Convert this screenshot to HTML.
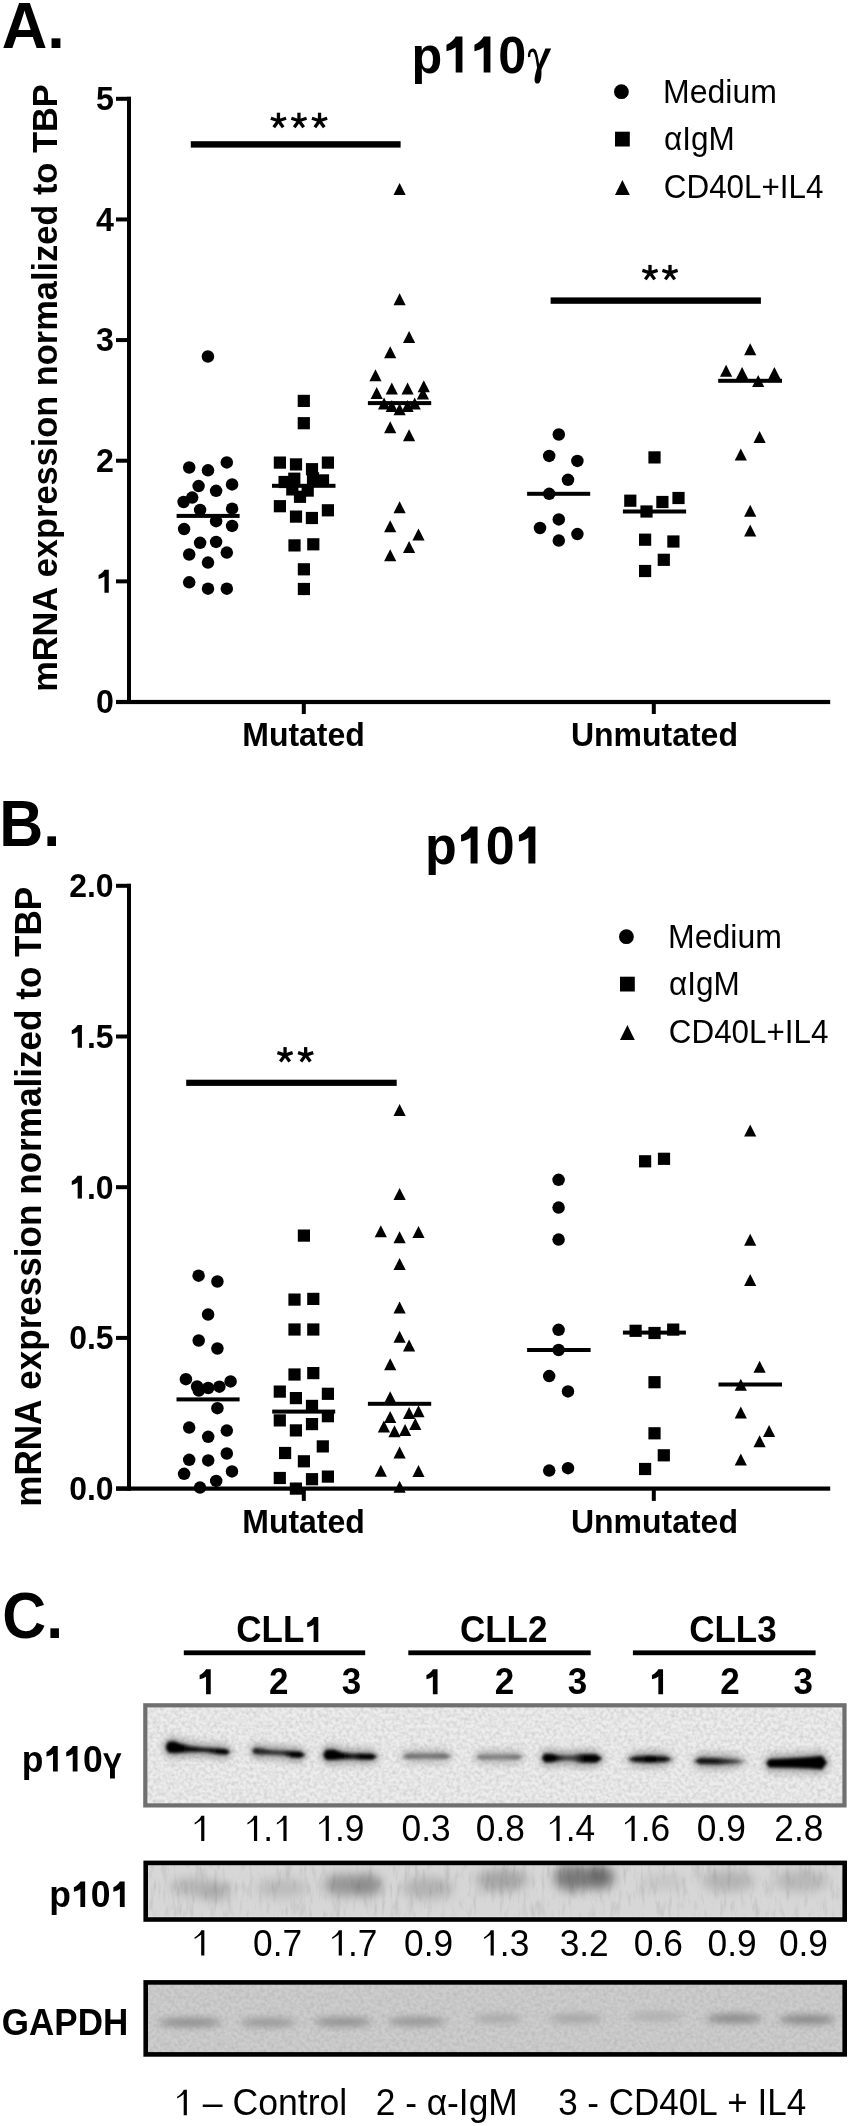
<!DOCTYPE html>
<html><head><meta charset="utf-8"><style>
html,body{margin:0;padding:0;background:#fff;}
body{width:850px;height:2126px;overflow:hidden;}
svg{display:block;font-family:"Liberation Sans",sans-serif;font-kerning:none;filter:grayscale(100%) blur(0.35px);}
</style></head><body>
<svg width="850" height="2126" viewBox="0 0 850 2126">
<rect width="850" height="2126" fill="#fff"/>
<defs>
<filter id="noise" x="0" y="0" width="100%" height="100%">
  <feTurbulence type="fractalNoise" baseFrequency="0.28" numOctaves="2" seed="7"/>
  <feColorMatrix type="matrix" values="0 0 0 0 0  0 0 0 0 0  0 0 0 0 0  1.6 0 0 0 -0.55" />
</filter>
<filter id="vnoise" x="0" y="0" width="100%" height="100%">
  <feTurbulence type="fractalNoise" baseFrequency="0.22 0.05" numOctaves="3" seed="11" result="t"/>
  <feColorMatrix type="matrix" values="0 0 0 0 0  0 0 0 0 0  0 0 0 0 0  0 0 0 -1.4 0.72" />
</filter>
<clipPath id="c1"><rect x="145.4" y="1705.4" width="699.1" height="100"/></clipPath>
<clipPath id="c2"><rect x="145.7" y="1862.9" width="699" height="56.6"/></clipPath>
<clipPath id="c3"><rect x="145.7" y="1982.4" width="699" height="72.0"/></clipPath>
<filter id="b1" x="-50%" y="-300%" width="200%" height="700%"><feGaussianBlur stdDeviation="1.7"/></filter>
<filter id="b4" x="-50%" y="-300%" width="200%" height="700%"><feGaussianBlur stdDeviation="3.8"/></filter>
<filter id="b6" x="-50%" y="-300%" width="200%" height="700%"><feGaussianBlur stdDeviation="5.5"/></filter>
<filter id="b3" x="-50%" y="-300%" width="200%" height="700%"><feGaussianBlur stdDeviation="2.8"/></filter>
</defs>
<g clip-path="url(#c1)">
<rect x="145.4" y="1705.4" width="699.1" height="100" fill="#ededed"/>
<rect x="145.4" y="1705.4" width="699.1" height="100" fill="#000" filter="url(#noise)" opacity="0.14"/>
<defs><linearGradient id="g1" gradientUnits="userSpaceOnUse" x1="165.5" y1="0" x2="230.5" y2="0"><stop offset="0" stop-color="#000"/><stop offset="0.35" stop-color="#080808"/><stop offset="0.6" stop-color="#1a1a1a"/><stop offset="0.85" stop-color="#000"/><stop offset="1" stop-color="#000"/></linearGradient></defs><polygon points="162.5,1747.0 168.0,1737.3 174.0,1736.8 180.0,1739.0 190.0,1741.8 205.0,1743.3 218.0,1744.1 226.0,1744.5 233.5,1752.0 226.0,1759.2 218.0,1758.4 205.0,1756.6 190.0,1756.4 180.0,1757.3 174.0,1757.7 168.0,1757.0" fill="#666" opacity="0.55" filter="url(#b4)"/><polygon points="165.5,1747.0 168.0,1741.8 174.0,1741.3 180.0,1743.5 190.0,1746.3 205.0,1747.8 218.0,1748.6 226.0,1749.0 230.5,1752.0 230.5,1752.0 226.0,1754.7 218.0,1753.9 205.0,1752.1 190.0,1751.9 180.0,1752.8 174.0,1753.2 168.0,1752.5 165.5,1747.0" fill="url(#g1)" filter="url(#b1)"/>
<defs><linearGradient id="g2" gradientUnits="userSpaceOnUse" x1="252" y1="0" x2="305.5" y2="0"><stop offset="0" stop-color="#222"/><stop offset="0.2" stop-color="#262626"/><stop offset="0.55" stop-color="#3a3a3a"/><stop offset="0.75" stop-color="#000"/><stop offset="1" stop-color="#000"/></linearGradient></defs><polygon points="249.0,1751.0 255.0,1743.3 261.0,1743.9 270.0,1745.5 285.0,1746.3 292.0,1746.8 300.0,1747.1 308.5,1755.0 300.0,1762.6 292.0,1762.1 285.0,1760.1 270.0,1759.1 261.0,1758.9 255.0,1758.7" fill="#666" opacity="0.55" filter="url(#b4)"/><polygon points="252.0,1751.0 255.0,1747.8 261.0,1748.4 270.0,1750.0 285.0,1750.8 292.0,1751.3 300.0,1751.6 305.5,1755.0 305.5,1755.0 300.0,1758.1 292.0,1757.6 285.0,1755.6 270.0,1754.6 261.0,1754.4 255.0,1754.2 252.0,1751.0" fill="url(#g2)" filter="url(#b1)"/>
<defs><linearGradient id="g3" gradientUnits="userSpaceOnUse" x1="323" y1="0" x2="377.5" y2="0"><stop offset="0" stop-color="#000"/><stop offset="0.35" stop-color="#000"/><stop offset="0.55" stop-color="#202020"/><stop offset="0.7" stop-color="#000"/><stop offset="1" stop-color="#000"/></linearGradient></defs><polygon points="320.0,1755.0 326.0,1745.3 334.0,1745.0 342.0,1747.9 352.0,1748.9 360.0,1748.9 372.0,1749.2 380.5,1756.6 372.0,1764.2 360.0,1764.1 352.0,1763.4 342.0,1763.7 334.0,1764.5 326.0,1764.5" fill="#666" opacity="0.55" filter="url(#b4)"/><polygon points="323.0,1755.0 326.0,1749.8 334.0,1749.5 342.0,1752.4 352.0,1753.4 360.0,1753.4 372.0,1753.7 377.5,1756.6 377.5,1756.6 372.0,1759.7 360.0,1759.6 352.0,1758.9 342.0,1759.2 334.0,1760.0 326.0,1760.0 323.0,1755.0" fill="url(#g3)" filter="url(#b1)"/>
<defs><linearGradient id="g4" gradientUnits="userSpaceOnUse" x1="402" y1="0" x2="451.3" y2="0"><stop offset="0" stop-color="#707070"/><stop offset="0.5" stop-color="#7a7a7a"/><stop offset="1" stop-color="#6a6a6a"/></linearGradient></defs><polygon points="399.0,1756.2 408.0,1749.1 445.0,1749.1 454.3,1756.2 445.0,1763.3 408.0,1763.3" fill="#666" opacity="0.35" filter="url(#b4)"/><polygon points="402.0,1756.2 408.0,1753.6 445.0,1753.6 451.3,1756.2 451.3,1756.2 445.0,1758.8 408.0,1758.8 402.0,1756.2" fill="url(#g4)" filter="url(#b1)"/>
<defs><linearGradient id="g5" gradientUnits="userSpaceOnUse" x1="475.3" y1="0" x2="523.3" y2="0"><stop offset="0" stop-color="#7e7e7e"/><stop offset="0.5" stop-color="#858585"/><stop offset="1" stop-color="#727272"/></linearGradient></defs><polygon points="472.3,1757.0 481.0,1750.0 517.0,1750.0 526.3,1757.0 517.0,1764.0 481.0,1764.0" fill="#666" opacity="0.35" filter="url(#b4)"/><polygon points="475.3,1757.0 481.0,1754.5 517.0,1754.5 523.3,1757.0 523.3,1757.0 517.0,1759.5 481.0,1759.5 475.3,1757.0" fill="url(#g5)" filter="url(#b1)"/>
<defs><linearGradient id="g6" gradientUnits="userSpaceOnUse" x1="541.7" y1="0" x2="602.4" y2="0"><stop offset="0" stop-color="#000"/><stop offset="0.2" stop-color="#000"/><stop offset="0.4" stop-color="#484848"/><stop offset="0.55" stop-color="#404040"/><stop offset="0.7" stop-color="#000"/><stop offset="1" stop-color="#000"/></linearGradient></defs><polygon points="538.7,1758.0 545.0,1749.0 552.0,1749.5 560.0,1751.1 572.0,1751.1 580.0,1749.7 596.0,1749.7 605.4,1758.6 596.0,1767.3 580.0,1767.1 572.0,1765.1 560.0,1765.1 552.0,1766.5 545.0,1767.0" fill="#666" opacity="0.55" filter="url(#b4)"/><polygon points="541.7,1758.0 545.0,1753.5 552.0,1754.0 560.0,1755.6 572.0,1755.6 580.0,1754.2 596.0,1754.2 602.4,1758.6 602.4,1758.6 596.0,1762.8 580.0,1762.6 572.0,1760.6 560.0,1760.6 552.0,1762.0 545.0,1762.5 541.7,1758.0" fill="url(#g6)" filter="url(#b1)"/>
<defs><linearGradient id="g7" gradientUnits="userSpaceOnUse" x1="628" y1="0" x2="672.2" y2="0"><stop offset="0" stop-color="#1a1a1a"/><stop offset="0.5" stop-color="#000"/><stop offset="1" stop-color="#1a1a1a"/></linearGradient></defs><polygon points="625.0,1759.3 634.0,1752.1 650.0,1751.1 666.0,1752.1 675.2,1759.3 666.0,1766.3 650.0,1767.3 634.0,1766.3" fill="#666" opacity="0.55" filter="url(#b4)"/><polygon points="628.0,1759.3 634.0,1756.6 650.0,1755.6 666.0,1756.6 672.2,1759.3 672.2,1759.3 666.0,1761.8 650.0,1762.8 634.0,1761.8 628.0,1759.3" fill="url(#g7)" filter="url(#b1)"/>
<defs><linearGradient id="g8" gradientUnits="userSpaceOnUse" x1="694.3" y1="0" x2="745.5" y2="0"><stop offset="0" stop-color="#111"/><stop offset="0.45" stop-color="#1a1a1a"/><stop offset="0.75" stop-color="#444"/><stop offset="1" stop-color="#666"/></linearGradient></defs><polygon points="691.3,1761.0 700.0,1753.3 718.0,1753.7 735.0,1755.0 748.5,1761.6 735.0,1768.0 718.0,1768.9 700.0,1768.7" fill="#666" opacity="0.55" filter="url(#b4)"/><polygon points="694.3,1761.0 700.0,1757.8 718.0,1758.2 735.0,1759.5 745.5,1761.6 745.5,1761.6 735.0,1763.5 718.0,1764.4 700.0,1764.2 694.3,1761.0" fill="url(#g8)" filter="url(#b1)"/>
<defs><linearGradient id="g9" gradientUnits="userSpaceOnUse" x1="766.2" y1="0" x2="827" y2="0"><stop offset="0" stop-color="#000"/><stop offset="1" stop-color="#000"/></linearGradient></defs><polygon points="763.2,1763.2 769.0,1754.7 790.0,1753.7 810.0,1752.5 822.0,1751.3 830.0,1762.6 822.0,1774.0 810.0,1773.1 790.0,1772.3 769.0,1772.1" fill="#666" opacity="0.55" filter="url(#b4)"/><polygon points="766.2,1763.2 769.0,1759.2 790.0,1758.2 810.0,1757.0 822.0,1755.8 827.0,1762.6 827.0,1762.6 822.0,1769.5 810.0,1768.6 790.0,1767.8 769.0,1767.6 766.2,1763.2" fill="url(#g9)" filter="url(#b1)"/>
</g>
<rect x="145.3" y="1705.3" width="699.2" height="100.1" fill="none" stroke="#6f6f6f" stroke-width="4.2"/>
<g clip-path="url(#c2)">
<rect x="145.7" y="1862.9" width="699" height="56.6" fill="#d7d7d7"/>
<ellipse cx="190.0" cy="1887.0" rx="20" ry="9" fill="#b6b6b6" opacity="1.0" filter="url(#b6)"/>
<ellipse cx="214.0" cy="1891.0" rx="16" ry="9" fill="#a8a8a8" opacity="1.0" filter="url(#b6)"/>
<ellipse cx="282.0" cy="1888.0" rx="26" ry="10" fill="#bcbcbc" opacity="1.0" filter="url(#b6)"/>
<ellipse cx="342.0" cy="1885.0" rx="18" ry="11" fill="#979797" opacity="1.0" filter="url(#b6)"/>
<ellipse cx="366.0" cy="1885.0" rx="16" ry="11" fill="#8c8c8c" opacity="1.0" filter="url(#b6)"/>
<ellipse cx="428.0" cy="1888.0" rx="26" ry="11" fill="#b2b2b2" opacity="1.0" filter="url(#b6)"/>
<ellipse cx="502.0" cy="1880.0" rx="26" ry="11" fill="#a6a6a6" opacity="1.0" filter="url(#b6)"/>
<ellipse cx="572.0" cy="1878.0" rx="18" ry="13" fill="#7a7a7a" opacity="1.0" filter="url(#b6)"/>
<ellipse cx="598.0" cy="1877.0" rx="16" ry="12" fill="#6c6c6c" opacity="1.0" filter="url(#b6)"/>
<ellipse cx="663.0" cy="1882.0" rx="22" ry="8" fill="#c6c6c6" opacity="1.0" filter="url(#b6)"/>
<ellipse cx="728.0" cy="1881.0" rx="27" ry="11" fill="#b4b4b4" opacity="1.0" filter="url(#b6)"/>
<ellipse cx="801.0" cy="1881.0" rx="28" ry="11" fill="#b8b8b8" opacity="1.0" filter="url(#b6)"/>
<rect x="145.7" y="1862.9" width="699" height="56.6" fill="#000" filter="url(#vnoise)" opacity="0.16"/>
<rect x="148" y="1916.6" width="694.4" height="1.2" fill="#f2f2f2" opacity="0.8"/>
</g>
<rect x="145.7" y="1862.9" width="699" height="56.6" fill="none" stroke="#000" stroke-width="4.6"/>
<g clip-path="url(#c3)">
<rect x="145.7" y="1982.4" width="699" height="72.0" fill="#cdcdcd"/>
<rect x="145.7" y="1982.4" width="699" height="72.0" fill="#000" filter="url(#noise)" opacity="0.10"/>
<ellipse cx="190.0" cy="2022.5" rx="32" ry="4.6" fill="#8e8e8e" opacity="1.0" filter="url(#b4)"/>
<ellipse cx="268.0" cy="2022.5" rx="28" ry="4.6" fill="#989898" opacity="1.0" filter="url(#b4)"/>
<ellipse cx="343.0" cy="2022.0" rx="29" ry="4.6" fill="#909090" opacity="1.0" filter="url(#b4)"/>
<ellipse cx="417.0" cy="2021.5" rx="29" ry="4.6" fill="#959595" opacity="1.0" filter="url(#b4)"/>
<ellipse cx="498.0" cy="2018.5" rx="24" ry="4.6" fill="#a9a9a9" opacity="1.0" filter="url(#b4)"/>
<ellipse cx="576.0" cy="2018.5" rx="27" ry="4.6" fill="#a5a5a5" opacity="1.0" filter="url(#b4)"/>
<ellipse cx="656.0" cy="2016.5" rx="27" ry="4.6" fill="#afafaf" opacity="1.0" filter="url(#b4)"/>
<ellipse cx="734.0" cy="2018.4" rx="28" ry="4.6" fill="#888888" opacity="1.0" filter="url(#b4)"/>
<ellipse cx="807.0" cy="2019.5" rx="28" ry="4.6" fill="#868686" opacity="1.0" filter="url(#b4)"/>
</g>
<rect x="145.7" y="1982.4" width="699" height="72.0" fill="none" stroke="#000" stroke-width="4.6"/>
<g fill="#000">
<g transform="translate(1.73 47.60) scale(1 1.03)"><text x="0" y="0" font-size="63.0" font-weight="bold">A.</text></g>
<g transform="translate(411.58 72.60) scale(1 1.04)"><text x="0" y="0" font-size="50.3" font-weight="bold">p  0</text><path transform="translate(30.73 0) scale(0.02456 -0.02456)" d="M820 0L545 0L545 990C450 913 300 865 170 836L170 1086C330 1153 470 1278 545 1409L820 1409Z"/><path transform="translate(58.70 0) scale(0.02456 -0.02456)" d="M820 0L545 0L545 990C450 913 300 865 170 836L170 1086C330 1153 470 1278 545 1409L820 1409Z"/></g>
<path d="M528.0 57.2 C527.6 52.5 529.5 48.6 532.8 48.6 C536.4 48.6 537.8 54 539.4 66.5 L537.0 67.2 C535.6 57 534.6 51.8 532.3 51.8 C530.6 51.8 530.2 54 530.3 56.8 Z"/>
<path d="M545.4 48.6 L551.2 48.6 L541.4 69.5 L537.6 68.0 Z"/>
<path d="M537.4 66.5 L541.3 68.2 C541.8 74 541.6 83.6 537.6 83.6 C534.4 83.6 534.2 80.5 534.9 76.5 C535.5 73 536.6 70 537.4 66.5 Z"/>
<rect x="127.00" y="96.80" width="4" height="607.20"/>
<rect x="116.00" y="700.00" width="15.00" height="4"/>
<g transform="translate(95.89 713.40) scale(1 1.04)"><text x="0" y="0" font-size="32.2" font-weight="bold">0</text></g>
<rect x="116.00" y="579.36" width="15.00" height="4"/>
<g transform="translate(95.89 592.76) scale(1 1.04)"><text x="0" y="0" font-size="32.2" font-weight="bold"> </text><path transform="translate(0.00 0) scale(0.01572 -0.01572)" d="M820 0L545 0L545 990C450 913 300 865 170 836L170 1086C330 1153 470 1278 545 1409L820 1409Z"/></g>
<rect x="116.00" y="458.72" width="15.00" height="4"/>
<g transform="translate(95.89 472.12) scale(1 1.04)"><text x="0" y="0" font-size="32.2" font-weight="bold">2</text></g>
<rect x="116.00" y="338.08" width="15.00" height="4"/>
<g transform="translate(95.89 351.48) scale(1 1.04)"><text x="0" y="0" font-size="32.2" font-weight="bold">3</text></g>
<rect x="116.00" y="217.44" width="15.00" height="4"/>
<g transform="translate(95.89 230.84) scale(1 1.04)"><text x="0" y="0" font-size="32.2" font-weight="bold">4</text></g>
<rect x="116.00" y="96.80" width="15.00" height="4"/>
<g transform="translate(95.89 110.20) scale(1 1.04)"><text x="0" y="0" font-size="32.2" font-weight="bold">5</text></g>
<rect x="116.00" y="699.90" width="714.20" height="4.2"/>
<rect x="301.80" y="702.00" width="4" height="12.00"/>
<rect x="651.80" y="702.00" width="4" height="12.00"/>
<g transform="translate(242.26 745.60) scale(1 1.04)"><text x="0" y="0" font-size="32" font-weight="bold">Mutated</text></g>
<g transform="translate(570.94 745.60) scale(1 1.04)"><text x="0" y="0" font-size="32" font-weight="bold">Unmutated</text></g>
<g transform="translate(56.8 387.4) rotate(-90) translate(-304.47 0) scale(1 1.04)"><text x="0" y="0" font-size="34.4" font-weight="bold">mRNA expression normalized to TBP</text></g>
<circle cx="621.4" cy="91.7" r="7.4"/>
<g transform="translate(663.08 102.50) scale(1 1.04)"><text x="0" y="0" font-size="32" font-weight="normal">Medium</text></g>
<rect x="615.00" y="131.70" width="14.8" height="14.8"/>
<g transform="translate(664.08 150.10) scale(1 1.04)"><text x="0" y="0" font-size="31.5" font-weight="normal">αIgM</text></g>
<path d="M622.40 179.90L629.80 194.90L615.00 194.90Z"/>
<g transform="translate(663.81 197.90) scale(1 1.04)"><text x="0" y="0" font-size="31.4" font-weight="normal">CD40L+IL4</text></g>
<rect x="190.80" y="141.20" width="209.80" height="6.4"/>
<g transform="translate(278.45 120.70)"><rect x="-1.65" y="-8.0" width="3.3" height="8.0" transform="rotate(0)"/><rect x="-1.65" y="-8.0" width="3.3" height="8.0" transform="rotate(72)"/><rect x="-1.65" y="-8.0" width="3.3" height="8.0" transform="rotate(144)"/><rect x="-1.65" y="-8.0" width="3.3" height="8.0" transform="rotate(216)"/><rect x="-1.65" y="-8.0" width="3.3" height="8.0" transform="rotate(288)"/></g>
<g transform="translate(298.95 120.70)"><rect x="-1.65" y="-8.0" width="3.3" height="8.0" transform="rotate(0)"/><rect x="-1.65" y="-8.0" width="3.3" height="8.0" transform="rotate(72)"/><rect x="-1.65" y="-8.0" width="3.3" height="8.0" transform="rotate(144)"/><rect x="-1.65" y="-8.0" width="3.3" height="8.0" transform="rotate(216)"/><rect x="-1.65" y="-8.0" width="3.3" height="8.0" transform="rotate(288)"/></g>
<g transform="translate(319.55 120.70)"><rect x="-1.65" y="-8.0" width="3.3" height="8.0" transform="rotate(0)"/><rect x="-1.65" y="-8.0" width="3.3" height="8.0" transform="rotate(72)"/><rect x="-1.65" y="-8.0" width="3.3" height="8.0" transform="rotate(144)"/><rect x="-1.65" y="-8.0" width="3.3" height="8.0" transform="rotate(216)"/><rect x="-1.65" y="-8.0" width="3.3" height="8.0" transform="rotate(288)"/></g>
<rect x="550.60" y="297.40" width="210.30" height="6.4"/>
<g transform="translate(650.00 272.90)"><rect x="-1.65" y="-8.0" width="3.3" height="8.0" transform="rotate(0)"/><rect x="-1.65" y="-8.0" width="3.3" height="8.0" transform="rotate(72)"/><rect x="-1.65" y="-8.0" width="3.3" height="8.0" transform="rotate(144)"/><rect x="-1.65" y="-8.0" width="3.3" height="8.0" transform="rotate(216)"/><rect x="-1.65" y="-8.0" width="3.3" height="8.0" transform="rotate(288)"/></g>
<g transform="translate(670.00 272.90)"><rect x="-1.65" y="-8.0" width="3.3" height="8.0" transform="rotate(0)"/><rect x="-1.65" y="-8.0" width="3.3" height="8.0" transform="rotate(72)"/><rect x="-1.65" y="-8.0" width="3.3" height="8.0" transform="rotate(144)"/><rect x="-1.65" y="-8.0" width="3.3" height="8.0" transform="rotate(216)"/><rect x="-1.65" y="-8.0" width="3.3" height="8.0" transform="rotate(288)"/></g>
<circle cx="207.9" cy="356.5" r="6.25"/>
<circle cx="189.2" cy="467.5" r="6.25"/>
<circle cx="208.0" cy="470.3" r="6.25"/>
<circle cx="226.8" cy="462.4" r="6.25"/>
<circle cx="198.6" cy="486.1" r="6.25"/>
<circle cx="216.1" cy="490.8" r="6.25"/>
<circle cx="232.1" cy="484.4" r="6.25"/>
<circle cx="192.2" cy="497.6" r="6.25"/>
<circle cx="183.6" cy="502.0" r="6.25"/>
<circle cx="200.1" cy="509.9" r="6.25"/>
<circle cx="232.1" cy="508.7" r="6.25"/>
<circle cx="216.1" cy="521.2" r="6.25"/>
<circle cx="184.1" cy="529.1" r="6.25"/>
<circle cx="232.1" cy="525.9" r="6.25"/>
<circle cx="200.1" cy="542.8" r="6.25"/>
<circle cx="216.1" cy="541.9" r="6.25"/>
<circle cx="189.2" cy="554.5" r="6.25"/>
<circle cx="226.8" cy="552.6" r="6.25"/>
<circle cx="208.0" cy="562.6" r="6.25"/>
<circle cx="189.2" cy="582.3" r="6.25"/>
<circle cx="208.0" cy="588.7" r="6.25"/>
<circle cx="226.8" cy="588.7" r="6.25"/>
<circle cx="558.8" cy="434.5" r="6.25"/>
<circle cx="549.2" cy="455.9" r="6.25"/>
<circle cx="577.4" cy="460.9" r="6.25"/>
<circle cx="568.0" cy="479.8" r="6.25"/>
<circle cx="549.2" cy="493.8" r="6.25"/>
<circle cx="558.8" cy="519.4" r="6.25"/>
<circle cx="540.0" cy="528.0" r="6.25"/>
<circle cx="577.4" cy="534.1" r="6.25"/>
<circle cx="558.8" cy="540.6" r="6.25"/>
<rect x="297.70" y="394.80" width="12.2" height="12.2"/>
<rect x="297.70" y="417.10" width="12.2" height="12.2"/>
<rect x="273.80" y="456.50" width="12.2" height="12.2"/>
<rect x="289.90" y="458.30" width="12.2" height="12.2"/>
<rect x="305.90" y="463.10" width="12.2" height="12.2"/>
<rect x="321.80" y="456.50" width="12.2" height="12.2"/>
<rect x="278.50" y="475.90" width="12.2" height="12.2"/>
<rect x="288.20" y="472.60" width="12.2" height="12.2"/>
<rect x="306.90" y="472.20" width="12.2" height="12.2"/>
<rect x="316.90" y="474.30" width="12.2" height="12.2"/>
<rect x="286.20" y="483.30" width="12.2" height="12.2"/>
<rect x="301.60" y="484.50" width="12.2" height="12.2"/>
<rect x="293.90" y="490.70" width="12.2" height="12.2"/>
<rect x="273.80" y="500.10" width="12.2" height="12.2"/>
<rect x="289.90" y="510.50" width="12.2" height="12.2"/>
<rect x="305.80" y="511.90" width="12.2" height="12.2"/>
<rect x="321.80" y="504.20" width="12.2" height="12.2"/>
<rect x="288.40" y="539.30" width="12.2" height="12.2"/>
<rect x="307.20" y="538.20" width="12.2" height="12.2"/>
<rect x="297.80" y="563.20" width="12.2" height="12.2"/>
<rect x="297.80" y="582.90" width="12.2" height="12.2"/>
<rect x="648.40" y="451.30" width="12.2" height="12.2"/>
<rect x="624.20" y="494.60" width="12.2" height="12.2"/>
<rect x="656.30" y="495.90" width="12.2" height="12.2"/>
<rect x="672.40" y="491.90" width="12.2" height="12.2"/>
<rect x="640.40" y="505.40" width="12.2" height="12.2"/>
<rect x="639.00" y="533.60" width="12.2" height="12.2"/>
<rect x="667.30" y="535.40" width="12.2" height="12.2"/>
<rect x="657.70" y="553.70" width="12.2" height="12.2"/>
<rect x="639.00" y="564.90" width="12.2" height="12.2"/>
<path d="M399.60 182.90L405.70 194.90L393.50 194.90Z"/>
<path d="M399.60 293.30L405.70 305.30L393.50 305.30Z"/>
<path d="M409.10 330.90L415.20 342.90L403.00 342.90Z"/>
<path d="M390.20 346.20L396.30 358.20L384.10 358.20Z"/>
<path d="M375.50 369.20L381.60 381.20L369.40 381.20Z"/>
<path d="M376.70 387.10L382.80 399.10L370.60 399.10Z"/>
<path d="M391.80 382.40L397.90 394.40L385.70 394.40Z"/>
<path d="M407.60 382.40L413.70 394.40L401.50 394.40Z"/>
<path d="M423.80 380.20L429.90 392.20L417.70 392.20Z"/>
<path d="M422.90 387.60L429.00 399.60L416.80 399.60Z"/>
<path d="M384.10 397.60L390.20 409.60L378.00 409.60Z"/>
<path d="M391.80 400.00L397.90 412.00L385.70 412.00Z"/>
<path d="M407.60 400.00L413.70 412.00L401.50 412.00Z"/>
<path d="M414.70 397.60L420.80 409.60L408.60 409.60Z"/>
<path d="M399.60 403.30L405.70 415.30L393.50 415.30Z"/>
<path d="M390.20 421.20L396.30 433.20L384.10 433.20Z"/>
<path d="M409.10 429.20L415.20 441.20L403.00 441.20Z"/>
<path d="M399.60 501.20L405.70 513.20L393.50 513.20Z"/>
<path d="M390.20 520.20L396.30 532.20L384.10 532.20Z"/>
<path d="M418.50 528.50L424.60 540.50L412.40 540.50Z"/>
<path d="M409.10 540.90L415.20 552.90L403.00 552.90Z"/>
<path d="M390.20 549.20L396.30 561.20L384.10 561.20Z"/>
<path d="M750.20 343.20L756.30 355.20L744.10 355.20Z"/>
<path d="M726.10 364.70L732.20 376.70L720.00 376.70Z"/>
<path d="M742.10 367.10L748.20 379.10L736.00 379.10Z"/>
<path d="M774.40 367.10L780.50 379.10L768.30 379.10Z"/>
<path d="M758.20 375.10L764.30 387.10L752.10 387.10Z"/>
<path d="M759.60 430.90L765.70 442.90L753.50 442.90Z"/>
<path d="M740.80 448.60L746.90 460.60L734.70 460.60Z"/>
<path d="M750.20 504.70L756.30 516.70L744.10 516.70Z"/>
<path d="M750.20 524.50L756.30 536.50L744.10 536.50Z"/>
<rect x="176.60" y="513.90" width="63.00" height="4"/>
<rect x="272.00" y="483.80" width="63.50" height="4"/>
<rect x="367.90" y="401.10" width="63.30" height="4"/>
<rect x="527.10" y="491.80" width="63.10" height="4"/>
<rect x="622.90" y="509.50" width="63.20" height="4"/>
<rect x="718.20" y="378.80" width="63.80" height="4"/>
<g transform="translate(-0.78 846.20) scale(1 1.075)"><text x="0" y="0" font-size="61.0" font-weight="bold">B.</text></g>
<g transform="translate(424.97 863.60) scale(1 1.04)"><text x="0" y="0" font-size="52.0" font-weight="bold">p 0 </text><path transform="translate(31.76 0) scale(0.02539 -0.02539)" d="M820 0L545 0L545 990C450 913 300 865 170 836L170 1086C330 1153 470 1278 545 1409L820 1409Z"/><path transform="translate(89.60 0) scale(0.02539 -0.02539)" d="M820 0L545 0L545 990C450 913 300 865 170 836L170 1086C330 1153 470 1278 545 1409L820 1409Z"/></g>
<rect x="127.00" y="883.80" width="4" height="606.80"/>
<rect x="116.00" y="1486.60" width="15.00" height="4"/>
<g transform="translate(69.15 1499.90) scale(1 1.04)"><text x="0" y="0" font-size="31.9" font-weight="bold">0.0</text></g>
<rect x="116.00" y="1335.90" width="15.00" height="4"/>
<g transform="translate(69.15 1349.20) scale(1 1.04)"><text x="0" y="0" font-size="31.9" font-weight="bold">0.5</text></g>
<rect x="116.00" y="1185.20" width="15.00" height="4"/>
<g transform="translate(69.15 1198.50) scale(1 1.04)"><text x="0" y="0" font-size="31.9" font-weight="bold"> .0</text><path transform="translate(0.00 0) scale(0.01558 -0.01558)" d="M820 0L545 0L545 990C450 913 300 865 170 836L170 1086C330 1153 470 1278 545 1409L820 1409Z"/></g>
<rect x="116.00" y="1034.50" width="15.00" height="4"/>
<g transform="translate(69.15 1047.80) scale(1 1.04)"><text x="0" y="0" font-size="31.9" font-weight="bold"> .5</text><path transform="translate(0.00 0) scale(0.01558 -0.01558)" d="M820 0L545 0L545 990C450 913 300 865 170 836L170 1086C330 1153 470 1278 545 1409L820 1409Z"/></g>
<rect x="116.00" y="883.80" width="15.00" height="4"/>
<g transform="translate(69.15 897.10) scale(1 1.04)"><text x="0" y="0" font-size="31.9" font-weight="bold">2.0</text></g>
<rect x="116.00" y="1486.50" width="714.20" height="4.2"/>
<rect x="301.80" y="1488.60" width="4" height="12.30"/>
<rect x="651.80" y="1488.60" width="4" height="12.30"/>
<g transform="translate(242.26 1532.60) scale(1 1.04)"><text x="0" y="0" font-size="32" font-weight="bold">Mutated</text></g>
<g transform="translate(570.94 1532.60) scale(1 1.04)"><text x="0" y="0" font-size="32" font-weight="bold">Unmutated</text></g>
<g transform="translate(41.1 1196.1) rotate(-90) translate(-310.66 0) scale(1 1.04)"><text x="0" y="0" font-size="35.1" font-weight="bold">mRNA expression normalized to TBP</text></g>
<circle cx="626.4" cy="936.7" r="7.4"/>
<g transform="translate(668.08 947.50) scale(1 1.04)"><text x="0" y="0" font-size="32" font-weight="normal">Medium</text></g>
<rect x="620.00" y="976.70" width="14.8" height="14.8"/>
<g transform="translate(669.08 995.10) scale(1 1.04)"><text x="0" y="0" font-size="31.5" font-weight="normal">αIgM</text></g>
<path d="M627.40 1024.90L634.80 1039.90L620.00 1039.90Z"/>
<g transform="translate(668.81 1042.90) scale(1 1.04)"><text x="0" y="0" font-size="31.4" font-weight="normal">CD40L+IL4</text></g>
<rect x="186.20" y="1079.70" width="210.50" height="6.2"/>
<g transform="translate(285.05 1055.10)"><rect x="-1.65" y="-8.0" width="3.3" height="8.0" transform="rotate(0)"/><rect x="-1.65" y="-8.0" width="3.3" height="8.0" transform="rotate(72)"/><rect x="-1.65" y="-8.0" width="3.3" height="8.0" transform="rotate(144)"/><rect x="-1.65" y="-8.0" width="3.3" height="8.0" transform="rotate(216)"/><rect x="-1.65" y="-8.0" width="3.3" height="8.0" transform="rotate(288)"/></g>
<g transform="translate(305.65 1055.10)"><rect x="-1.65" y="-8.0" width="3.3" height="8.0" transform="rotate(0)"/><rect x="-1.65" y="-8.0" width="3.3" height="8.0" transform="rotate(72)"/><rect x="-1.65" y="-8.0" width="3.3" height="8.0" transform="rotate(144)"/><rect x="-1.65" y="-8.0" width="3.3" height="8.0" transform="rotate(216)"/><rect x="-1.65" y="-8.0" width="3.3" height="8.0" transform="rotate(288)"/></g>
<circle cx="198.6" cy="1275.7" r="6.25"/>
<circle cx="217.4" cy="1281.5" r="6.25"/>
<circle cx="208.1" cy="1314.5" r="6.25"/>
<circle cx="198.7" cy="1340.5" r="6.25"/>
<circle cx="217.4" cy="1348.5" r="6.25"/>
<circle cx="185.9" cy="1379.2" r="6.25"/>
<circle cx="197.1" cy="1386.5" r="6.25"/>
<circle cx="198.8" cy="1390.6" r="6.25"/>
<circle cx="208.2" cy="1388.0" r="6.25"/>
<circle cx="219.4" cy="1386.7" r="6.25"/>
<circle cx="230.6" cy="1381.4" r="6.25"/>
<circle cx="217.4" cy="1408.2" r="6.25"/>
<circle cx="189.2" cy="1427.6" r="6.25"/>
<circle cx="208.2" cy="1436.8" r="6.25"/>
<circle cx="226.8" cy="1430.6" r="6.25"/>
<circle cx="226.8" cy="1453.5" r="6.25"/>
<circle cx="189.2" cy="1459.8" r="6.25"/>
<circle cx="208.2" cy="1460.4" r="6.25"/>
<circle cx="232.0" cy="1471.4" r="6.25"/>
<circle cx="184.1" cy="1473.8" r="6.25"/>
<circle cx="216.2" cy="1480.9" r="6.25"/>
<circle cx="200.0" cy="1487.6" r="6.25"/>
<circle cx="558.6" cy="1179.8" r="6.25"/>
<circle cx="558.6" cy="1207.6" r="6.25"/>
<circle cx="558.6" cy="1239.6" r="6.25"/>
<circle cx="558.6" cy="1329.8" r="6.25"/>
<circle cx="558.6" cy="1350.0" r="6.25"/>
<circle cx="549.2" cy="1376.1" r="6.25"/>
<circle cx="568.0" cy="1391.4" r="6.25"/>
<circle cx="549.2" cy="1470.6" r="6.25"/>
<circle cx="568.0" cy="1468.2" r="6.25"/>
<rect x="297.80" y="1229.50" width="12.2" height="12.2"/>
<rect x="288.40" y="1293.50" width="12.2" height="12.2"/>
<rect x="307.20" y="1292.80" width="12.2" height="12.2"/>
<rect x="288.40" y="1323.40" width="12.2" height="12.2"/>
<rect x="307.20" y="1323.40" width="12.2" height="12.2"/>
<rect x="288.40" y="1368.40" width="12.2" height="12.2"/>
<rect x="307.20" y="1367.00" width="12.2" height="12.2"/>
<rect x="273.70" y="1385.50" width="12.2" height="12.2"/>
<rect x="289.80" y="1392.00" width="12.2" height="12.2"/>
<rect x="321.80" y="1387.70" width="12.2" height="12.2"/>
<rect x="305.90" y="1399.80" width="12.2" height="12.2"/>
<rect x="273.70" y="1414.30" width="12.2" height="12.2"/>
<rect x="321.80" y="1410.10" width="12.2" height="12.2"/>
<rect x="305.90" y="1418.00" width="12.2" height="12.2"/>
<rect x="289.80" y="1424.30" width="12.2" height="12.2"/>
<rect x="316.70" y="1440.30" width="12.2" height="12.2"/>
<rect x="279.00" y="1446.90" width="12.2" height="12.2"/>
<rect x="297.80" y="1455.20" width="12.2" height="12.2"/>
<rect x="273.70" y="1471.90" width="12.2" height="12.2"/>
<rect x="305.90" y="1473.10" width="12.2" height="12.2"/>
<rect x="321.80" y="1470.50" width="12.2" height="12.2"/>
<rect x="289.80" y="1482.50" width="12.2" height="12.2"/>
<rect x="639.00" y="1155.20" width="12.2" height="12.2"/>
<rect x="657.90" y="1152.70" width="12.2" height="12.2"/>
<rect x="629.50" y="1324.70" width="12.2" height="12.2"/>
<rect x="648.40" y="1326.90" width="12.2" height="12.2"/>
<rect x="667.10" y="1323.50" width="12.2" height="12.2"/>
<rect x="648.40" y="1376.10" width="12.2" height="12.2"/>
<rect x="648.40" y="1427.20" width="12.2" height="12.2"/>
<rect x="657.70" y="1449.20" width="12.2" height="12.2"/>
<rect x="639.00" y="1462.90" width="12.2" height="12.2"/>
<path d="M399.60 1104.10L405.70 1116.10L393.50 1116.10Z"/>
<path d="M399.60 1187.90L405.70 1199.90L393.50 1199.90Z"/>
<path d="M380.80 1225.30L386.90 1237.30L374.70 1237.30Z"/>
<path d="M399.60 1231.20L405.70 1243.20L393.50 1243.20Z"/>
<path d="M418.50 1226.00L424.60 1238.00L412.40 1238.00Z"/>
<path d="M399.60 1257.90L405.70 1269.90L393.50 1269.90Z"/>
<path d="M399.60 1301.40L405.70 1313.40L393.50 1313.40Z"/>
<path d="M399.60 1330.80L405.70 1342.80L393.50 1342.80Z"/>
<path d="M409.10 1339.40L415.20 1351.40L403.00 1351.40Z"/>
<path d="M390.20 1358.30L396.30 1370.30L384.10 1370.30Z"/>
<path d="M390.20 1391.20L396.30 1403.20L384.10 1403.20Z"/>
<path d="M409.10 1407.10L415.20 1419.10L403.00 1419.10Z"/>
<path d="M418.50 1405.30L424.60 1417.30L412.40 1417.30Z"/>
<path d="M390.20 1410.90L396.30 1422.90L384.10 1422.90Z"/>
<path d="M383.90 1420.40L390.00 1432.40L377.80 1432.40Z"/>
<path d="M415.30 1418.00L421.40 1430.00L409.20 1430.00Z"/>
<path d="M394.50 1425.30L400.60 1437.30L388.40 1437.30Z"/>
<path d="M405.10 1424.10L411.20 1436.10L399.00 1436.10Z"/>
<path d="M399.60 1446.50L405.70 1458.50L393.50 1458.50Z"/>
<path d="M380.80 1464.70L386.90 1476.70L374.70 1476.70Z"/>
<path d="M418.50 1465.10L424.60 1477.10L412.40 1477.10Z"/>
<path d="M399.60 1480.80L405.70 1492.80L393.50 1492.80Z"/>
<path d="M750.20 1124.40L756.30 1136.40L744.10 1136.40Z"/>
<path d="M750.20 1233.80L756.30 1245.80L744.10 1245.80Z"/>
<path d="M750.20 1274.10L756.30 1286.10L744.10 1286.10Z"/>
<path d="M759.60 1360.80L765.70 1372.80L753.50 1372.80Z"/>
<path d="M740.80 1378.80L746.90 1390.80L734.70 1390.80Z"/>
<path d="M740.80 1406.50L746.90 1418.50L734.70 1418.50Z"/>
<path d="M769.10 1424.90L775.20 1436.90L763.00 1436.90Z"/>
<path d="M759.60 1435.30L765.70 1447.30L753.50 1447.30Z"/>
<path d="M740.80 1453.50L746.90 1465.50L734.70 1465.50Z"/>
<rect x="176.50" y="1397.40" width="63.10" height="4"/>
<rect x="272.20" y="1409.60" width="63.00" height="4"/>
<rect x="367.90" y="1401.80" width="63.30" height="4"/>
<rect x="527.10" y="1348.00" width="63.50" height="4"/>
<rect x="622.90" y="1330.60" width="63.00" height="4"/>
<rect x="718.50" y="1382.50" width="63.50" height="4"/>
<g transform="translate(2.31 1637.80) scale(1 1.075)"><text x="0" y="0" font-size="60.8" font-weight="bold">C.</text></g>
<g transform="translate(236.26 1642.00) scale(1 1.04)"><text x="0" y="0" font-size="35" font-weight="bold">CLL </text><path transform="translate(68.03 0) scale(0.01709 -0.01709)" d="M820 0L545 0L545 990C450 913 300 865 170 836L170 1086C330 1153 470 1278 545 1409L820 1409Z"/></g>
<rect x="183.80" y="1650.40" width="181.40" height="4.8"/>
<g transform="translate(459.93 1642.00) scale(1 1.04)"><text x="0" y="0" font-size="35" font-weight="bold">CLL2</text></g>
<rect x="408.30" y="1650.40" width="182.40" height="4.8"/>
<g transform="translate(689.16 1642.00) scale(1 1.04)"><text x="0" y="0" font-size="35" font-weight="bold">CLL3</text></g>
<rect x="632.90" y="1650.40" width="182.70" height="4.8"/>
<g transform="translate(196.74 1694.20) scale(1 1.04)"><text x="0" y="0" font-size="35" font-weight="bold"> </text><path transform="translate(0.00 0) scale(0.01709 -0.01709)" d="M820 0L545 0L545 990C450 913 300 865 170 836L170 1086C330 1153 470 1278 545 1409L820 1409Z"/></g>
<g transform="translate(268.96 1694.20) scale(1 1.04)"><text x="0" y="0" font-size="35" font-weight="bold">2</text></g>
<g transform="translate(341.80 1694.20) scale(1 1.04)"><text x="0" y="0" font-size="35" font-weight="bold">3</text></g>
<g transform="translate(423.54 1694.20) scale(1 1.04)"><text x="0" y="0" font-size="35" font-weight="bold"> </text><path transform="translate(0.00 0) scale(0.01709 -0.01709)" d="M820 0L545 0L545 990C450 913 300 865 170 836L170 1086C330 1153 470 1278 545 1409L820 1409Z"/></g>
<g transform="translate(494.86 1694.20) scale(1 1.04)"><text x="0" y="0" font-size="35" font-weight="bold">2</text></g>
<g transform="translate(567.80 1694.20) scale(1 1.04)"><text x="0" y="0" font-size="35" font-weight="bold">3</text></g>
<g transform="translate(649.04 1694.20) scale(1 1.04)"><text x="0" y="0" font-size="35" font-weight="bold"> </text><path transform="translate(0.00 0) scale(0.01709 -0.01709)" d="M820 0L545 0L545 990C450 913 300 865 170 836L170 1086C330 1153 470 1278 545 1409L820 1409Z"/></g>
<g transform="translate(720.36 1694.20) scale(1 1.04)"><text x="0" y="0" font-size="35" font-weight="bold">2</text></g>
<g transform="translate(793.50 1694.20) scale(1 1.04)"><text x="0" y="0" font-size="35" font-weight="bold">3</text></g>
<g transform="translate(21.86 1771.50) scale(1 1.04)"><text x="0" y="0" font-size="35.5" font-weight="bold">p  0</text><path transform="translate(21.68 0) scale(0.01733 -0.01733)" d="M820 0L545 0L545 990C450 913 300 865 170 836L170 1086C330 1153 470 1278 545 1409L820 1409Z"/><path transform="translate(41.43 0) scale(0.01733 -0.01733)" d="M820 0L545 0L545 990C450 913 300 865 170 836L170 1086C330 1153 470 1278 545 1409L820 1409Z"/></g>
<path d="M103.2 1753.2L107.6 1753.2L112.4 1764.6L117.1 1753.2L121.4 1753.2L114.9 1768.6L114.9 1778.6L110.0 1778.6L110.0 1768.6Z"/>
<g transform="translate(49.26 1906.90) scale(1 1.04)"><text x="0" y="0" font-size="35.5" font-weight="bold">p 0 </text><path transform="translate(21.68 0) scale(0.01733 -0.01733)" d="M820 0L545 0L545 990C450 913 300 865 170 836L170 1086C330 1153 470 1278 545 1409L820 1409Z"/><path transform="translate(61.17 0) scale(0.01733 -0.01733)" d="M820 0L545 0L545 990C450 913 300 865 170 836L170 1086C330 1153 470 1278 545 1409L820 1409Z"/></g>
<g transform="translate(1.86 2035.30) scale(1 1.04)"><text x="0" y="0" font-size="35" font-weight="bold">GAPDH</text></g>
<g transform="translate(190.77 1841.00) scale(1 1.04)"><text x="0" y="0" font-size="35.3" font-weight="normal"> </text><path transform="translate(0.00 0) scale(0.01724 -0.01724)" d="M788 0L604 0L604 1170C500 1080 360 990 225 921L225 1020C390 1100 530 1240 610 1409L788 1409Z"/></g>
<g transform="translate(243.55 1841.00) scale(1 1.04)"><text x="0" y="0" font-size="35.3" font-weight="normal"> . </text><path transform="translate(0.00 0) scale(0.01724 -0.01724)" d="M788 0L604 0L604 1170C500 1080 360 990 225 921L225 1020C390 1100 530 1240 610 1409L788 1409Z"/><path transform="translate(29.44 0) scale(0.01724 -0.01724)" d="M788 0L604 0L604 1170C500 1080 360 990 225 921L225 1020C390 1100 530 1240 610 1409L788 1409Z"/></g>
<g transform="translate(315.26 1841.00) scale(1 1.04)"><text x="0" y="0" font-size="35.3" font-weight="normal"> .9</text><path transform="translate(0.00 0) scale(0.01724 -0.01724)" d="M788 0L604 0L604 1170C500 1080 360 990 225 921L225 1020C390 1100 530 1240 610 1409L788 1409Z"/></g>
<g transform="translate(401.55 1841.00) scale(1 1.04)"><text x="0" y="0" font-size="35.3" font-weight="normal">0.3</text></g>
<g transform="translate(475.84 1841.00) scale(1 1.04)"><text x="0" y="0" font-size="35.3" font-weight="normal">0.8</text></g>
<g transform="translate(546.04 1841.00) scale(1 1.04)"><text x="0" y="0" font-size="35.3" font-weight="normal"> .4</text><path transform="translate(0.00 0) scale(0.01724 -0.01724)" d="M788 0L604 0L604 1170C500 1080 360 990 225 921L225 1020C390 1100 530 1240 610 1409L788 1409Z"/></g>
<g transform="translate(621.10 1841.00) scale(1 1.04)"><text x="0" y="0" font-size="35.3" font-weight="normal"> .6</text><path transform="translate(0.00 0) scale(0.01724 -0.01724)" d="M788 0L604 0L604 1170C500 1080 360 990 225 921L225 1020C390 1100 530 1240 610 1409L788 1409Z"/></g>
<g transform="translate(696.81 1841.00) scale(1 1.04)"><text x="0" y="0" font-size="35.3" font-weight="normal">0.9</text></g>
<g transform="translate(774.34 1841.00) scale(1 1.04)"><text x="0" y="0" font-size="35.3" font-weight="normal">2.8</text></g>
<g transform="translate(190.77 1955.50) scale(1 1.04)"><text x="0" y="0" font-size="35.3" font-weight="normal"> </text><path transform="translate(0.00 0) scale(0.01724 -0.01724)" d="M788 0L604 0L604 1170C500 1080 360 990 225 921L225 1020C390 1100 530 1240 610 1409L788 1409Z"/></g>
<g transform="translate(253.06 1955.50) scale(1 1.04)"><text x="0" y="0" font-size="35.3" font-weight="normal">0.7</text></g>
<g transform="translate(328.31 1955.50) scale(1 1.04)"><text x="0" y="0" font-size="35.3" font-weight="normal"> .7</text><path transform="translate(0.00 0) scale(0.01724 -0.01724)" d="M788 0L604 0L604 1170C500 1080 360 990 225 921L225 1020C390 1100 530 1240 610 1409L788 1409Z"/></g>
<g transform="translate(404.11 1955.50) scale(1 1.04)"><text x="0" y="0" font-size="35.3" font-weight="normal">0.9</text></g>
<g transform="translate(480.20 1955.50) scale(1 1.04)"><text x="0" y="0" font-size="35.3" font-weight="normal"> .3</text><path transform="translate(0.00 0) scale(0.01724 -0.01724)" d="M788 0L604 0L604 1170C500 1080 360 990 225 921L225 1020C390 1100 530 1240 610 1409L788 1409Z"/></g>
<g transform="translate(559.68 1955.50) scale(1 1.04)"><text x="0" y="0" font-size="35.3" font-weight="normal">3.2</text></g>
<g transform="translate(633.85 1955.50) scale(1 1.04)"><text x="0" y="0" font-size="35.3" font-weight="normal">0.6</text></g>
<g transform="translate(707.61 1955.50) scale(1 1.04)"><text x="0" y="0" font-size="35.3" font-weight="normal">0.9</text></g>
<g transform="translate(778.91 1955.50) scale(1 1.04)"><text x="0" y="0" font-size="35.3" font-weight="normal">0.9</text></g>
<g transform="translate(173.19 2115.20) scale(1 1.04)"><text x="0" y="0" font-size="35.6" font-weight="normal">  – Control</text><path transform="translate(0.00 0) scale(0.01738 -0.01738)" d="M788 0L604 0L604 1170C500 1080 360 990 225 921L225 1020C390 1100 530 1240 610 1409L788 1409Z"/></g>
<g transform="translate(375.72 2115.20) scale(1 1.04)"><text x="0" y="0" font-size="35.3" font-weight="normal">2 - α-IgM</text></g>
<g transform="translate(558.17 2115.20) scale(1 1.04)"><text x="0" y="0" font-size="35.0" font-weight="normal">3 - CD40L + IL4</text></g>
</g>
</svg>
</body></html>
